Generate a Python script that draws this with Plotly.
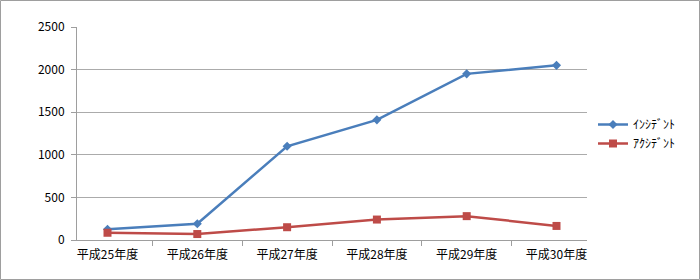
import plotly.graph_objects as go

categories = ["平成25年度", "平成26年度", "平成27年度", "平成28年度", "平成29年度", "平成30年度"]
incident = [125, 190, 1100, 1410, 1950, 2050]
accident = [85, 70, 150, 240, 280, 165]
series_names = ["ｲﾝｼﾃﾞﾝﾄ", "ｱｸｼﾃﾞﾝﾄ"]
y_ticks = [0, 500, 1000, 1500, 2000, 2500]

W, H = 700, 280
L, R, T, B = 77, 113, 27, 40
pw, ph = W - L - R, H - T - B

fig = go.Figure()
fig.add_trace(go.Scatter(x=categories, y=incident, name=series_names[0], mode="lines+markers",
                         line=dict(color="#4A7EBB", width=2.5),
                         marker=dict(symbol="diamond", size=7, color="#4A7EBB")))
fig.add_trace(go.Scatter(x=categories, y=accident, name=series_names[1], mode="lines+markers",
                         line=dict(color="#BE4B48", width=2.5),
                         marker=dict(symbol="square", size=8, color="#BE4B48")))

font = "Noto Sans CJK JP, sans-serif"
fig.update_layout(
    template="none",
    width=W, height=H,
    autosize=False,
    margin=dict(l=L, r=R, t=T, b=B, autoexpand=False),
    paper_bgcolor="white", plot_bgcolor="white",
    font=dict(family=font, size=11, color="#000000"),
    showlegend=True,
    legend=dict(x=(593 - L) / pw, xanchor="left", y=(T + ph - 110) / ph, yanchor="top",
                bgcolor="rgba(0,0,0,0)", font=dict(size=12, family=font),
                itemwidth=30, tracegroupgap=0),
    xaxis=dict(type="category", showgrid=False, showline=True, linecolor="#9E9E9E", linewidth=1,
               ticks="outside", tickson="boundaries", ticklen=5, tickcolor="#9E9E9E",
               tickfont=dict(size=12, family=font), fixedrange=True, ticklabelstandoff=4,
               automargin=False),
    yaxis=dict(range=[0, 2500], tickvals=y_ticks, showgrid=True, gridcolor="#ABABAB", gridwidth=1,
               showline=True, linecolor="#9E9E9E", linewidth=1, ticks="outside", ticklen=5,
               tickcolor="#9E9E9E", zeroline=False, tickfont=dict(size=12, family=font),
               ticklabelstandoff=4, automargin=False),
)
fig.add_shape(type="rect", xref="paper", yref="paper",
              x0=-(L - 0.5) / pw, x1=(W - 0.5 - L) / pw,
              y0=-(B - 0.5) / ph, y1=(H - 0.5 - B) / ph,
              line=dict(color="#9E9E9E", width=1), fillcolor="rgba(0,0,0,0)", layer="below")

fig.write_html("out.html")
